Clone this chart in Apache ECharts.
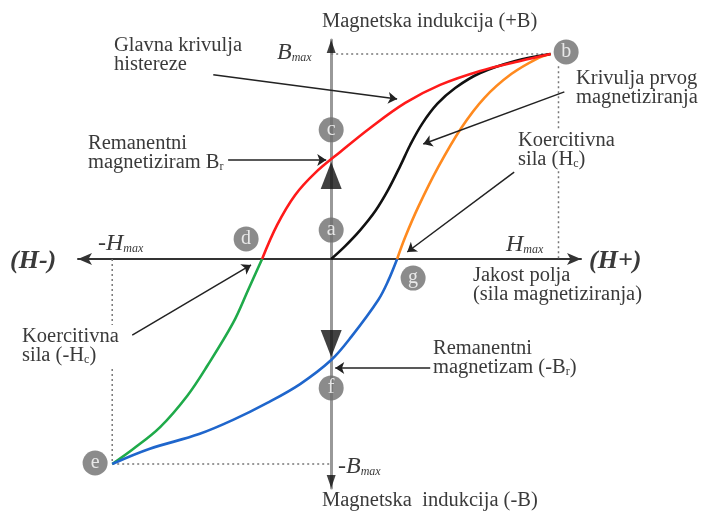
<!DOCTYPE html>
<html>
<head>
<meta charset="utf-8">
<script src="https://cdn.jsdelivr.net/npm/echarts@6/dist/echarts.min.js"></script>
<style>html,body{margin:0;padding:0;background:#fff;}#c{width:702px;height:511px;}</style>
</head>
<body>
<div id="c"></div>
<script>
// Curves (H, B); H unit ~ 1/10 Hmax, B unit ~ 1/10 Bmax
const redMain = [[-3.07,0],[-2.4,1.66],[-1.6,3.12],[-0.71,4.2],[0.4,5.22],[1.73,6.39],[3.29,7.61],[4.84,8.49],[6.62,9.17],[8.4,9.66],[9.75,10]];
const blackInitial = [[0,0],[0.62,0.63],[1.29,1.41],[1.96,2.34],[2.53,3.37],[3.07,4.54],[3.51,5.56],[4.04,6.59],[4.71,7.56],[5.51,8.34],[6.62,9.07],[8.18,9.66],[9.75,10]];
const orangeRise = [[2.93,0],[3.29,1.07],[3.87,2.54],[4.76,4.49],[5.78,6.39],[6.8,7.85],[8.0,9.02],[9.2,9.8],[9.75,10]];
const blueFall = [[-9.73,-10],[-8.09,-9.27],[-5.87,-8.54],[-4.36,-7.85],[-2.84,-7.02],[-1.38,-6.1],[0,-4.93],[0.89,-3.8],[2.09,-2.0],[2.53,-1.07],[2.93,0]];
const greenFall = [[-9.73,-10],[-8.8,-9.27],[-7.6,-8.2],[-6.4,-6.68],[-5.51,-5.22],[-4.36,-3.12],[-3.69,-1.51],[-3.07,0]];

// Labelled points
const pointNames = ['b','c','a','d','g','f','e'];
const pointCoords = [[10.44,10.1],[0,6.3],[0,1.41],[-3.78,0.98],[3.64,-0.93],[0,-6.29],[-10.49,-9.95]];

// Reference guides
const bmaxGuide = [[0,10],[9.75,10]];
const hmaxGuide = [[10.1,9.4],[10.1,0]];
const negHmaxGuide = [[-9.73,0],[-9.73,-10]];
const negBmaxGuide = [[-9.73,-10],[0,-10]];

// Annotation arrows (from, to)
const arrows = [
  [[-5.24,8.98],[2.93,7.8]],
  [[-4.58,4.83],[-0.22,4.83]],
  [[10.36,8.15],[4.09,5.61]],
  [[8.13,4.24],[3.38,0.34]],
  [[-8.84,-3.71],[-3.56,-0.29]],
  [[4.4,-5.32],[0.18,-5.32]]
];

const xMin = -11.25, xMax = 11.1, yMin = -11.17, yMax = 10.68;

const chart = echarts.init(document.getElementById('c'), null, {renderer:'canvas'});
const serif = "Liberation Serif";
const txtColor = '#3a3a3a';
const FS = 20.5, LH = 19;

const rich = {
  n:{fontFamily:serif, fontSize:FS, color:txtColor, lineHeight:LH},
  s:{fontFamily:serif, fontSize:12, color:txtColor, lineHeight:LH, padding:[9,0,0,0]},
  BI:{fontFamily:serif, fontSize:24, fontStyle:'italic', color:txtColor},
  BS:{fontFamily:serif, fontSize:12, fontStyle:'italic', color:txtColor, padding:[9,0,0,0]},
  HI:{fontFamily:serif, fontSize:26, fontStyle:'italic', fontWeight:'bold', color:'#333'}
};
function txt(x, y, text, bg) {
  const st = {text:text, fill:txtColor, fontFamily:serif, fontSize:FS, lineHeight:LH,
    align:'left', verticalAlign:'middle', textAlign:'left', textVerticalAlign:'middle', rich:rich};
  if (bg) { st.backgroundColor = '#fff'; st.padding = [2,2,2,2]; }
  return {type:'text', x:x, y:y, z:100, style:st};
}

const guideStyle = {color:'#777', width:1.5, type:[2,3]};
function guide(d){ return {type:'line', data:d, symbol:'none', lineStyle:guideStyle, z:1, silent:true}; }
function curve(d, c){ return {type:'line', data:d, symbol:'none', smooth:0.35, lineStyle:{color:c, width:2.6}, z:3}; }

chart.setOption({
  animation:false,
  backgroundColor:'#fff',
  grid:{left:78, right:121, top:40, bottom:23},
  xAxis:{type:'value', min:xMin, max:xMax, splitLine:{show:false}, axisTick:{show:false}, axisLabel:{show:false},
    axisLine:{show:true, onZero:true, symbol:['arrow','arrow'], symbolSize:[9,14], lineStyle:{color:'#333', width:2}}},
  yAxis:{type:'value', min:yMin, max:yMax, splitLine:{show:false}, axisTick:{show:false}, axisLabel:{show:false},
    axisLine:{show:true, onZero:true, symbol:'none', lineStyle:{color:'#999', width:3}}},
  series:[
    guide(bmaxGuide), guide(hmaxGuide), guide(negHmaxGuide), guide(negBmaxGuide),
    curve(greenFall, '#1faa4a'),
    curve(blueFall, '#1f66cc'),
    curve(orangeRise, '#ff8a1f'),
    curve(blackInitial, '#111111'),
    curve(redMain, '#ff1a1a'),
    {type:'lines', coordinateSystem:'cartesian2d', z:4, symbol:['none','arrow'], symbolSize:9,
      lineStyle:{color:'#222', width:1.5, opacity:1},
      data:arrows.map(a => ({coords:a}))},
    {type:'scatter', z:5, symbol:'triangle', symbolSize:[9,13], itemStyle:{color:'#111'},
      data:[{value:[0,yMax], symbolOffset:[0,6.5]},{value:[0,yMin], symbolRotate:180, symbolOffset:[0,-6.5]}]},
    {type:'scatter', z:5, symbol:'triangle', symbolSize:[21,27], itemStyle:{color:'#111'},
      data:[{value:[0,4.07]},{value:[0,-4.12], symbolRotate:180}]},
    {type:'scatter', z:6, symbol:'circle', symbolSize:25, itemStyle:{color:'#6e6e6e'},
      label:{show:true, position:'inside', formatter:p => p.name, color:'#fff', fontFamily:serif, fontSize:20},
      data:pointNames.map((n,i) => ({name:n, value:pointCoords[i]}))}
  ],
  graphic:[
    txt(322, 22, '{n|Magnetska indukcija (+B)}'),
    txt(277, 53, '{BI|B}{BS|max}'),
    txt(114, 55, '{n|Glavna krivulja}\n{n|histereze}'),
    txt(88, 153, '{n|Remanentni}\n{n|magnetiziram B}{s|r}'),
    txt(576, 88, '{n|Krivulja prvog}\n{n|magnetiziranja}'),
    txt(516, 150, '{n|Koercitivna}\n{n|sila (H}{s|c}{n|)}', true),
    txt(98, 244, '{BI|-H}{BS|max}'),
    txt(506, 245, '{BI|H}{BS|max}'),
    txt(10, 261, '{HI|(H-)}'),
    txt(589, 261, '{HI|(H+)}'),
    txt(473, 285, '{n|Jakost polja}\n{n|(sila magnetiziranja)}'),
    txt(20, 346, '{n|Koercitivna}\n{n|sila (-H}{s|c}{n|)}', true),
    txt(433, 358, '{n|Remanentni}\n{n|magnetizam (-B}{s|r}{n|)}'),
    txt(338, 467, '{BI|-B}{BS|max}'),
    txt(322, 501, '{n|Magnetska  indukcija (-B)}')
  ]
});
</script>
</body>
</html>
